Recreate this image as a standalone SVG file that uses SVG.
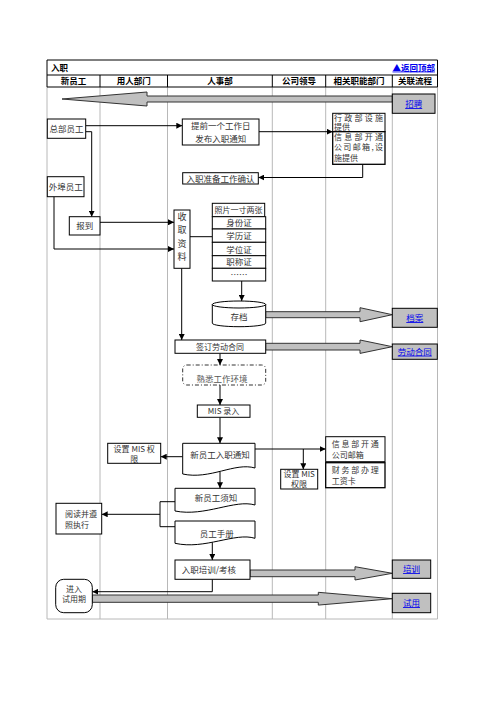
<svg xmlns="http://www.w3.org/2000/svg" width="496" height="702" viewBox="0 0 496 702">
<style>
text{font-family:"Noto Sans CJK SC","Liberation Sans",sans-serif;font-size:8.5px;fill:#333}
.c{text-anchor:middle}
.s{font-size:8px}
.h{font-weight:bold;fill:#000;font-size:8.5px}
.lk{fill:#0000ee;text-decoration:underline;text-anchor:middle}
.bx{fill:#fff;stroke:#000;stroke-width:1}
.lb{fill:#c0c0c0;stroke:#000;stroke-width:1}
.gl{stroke:#b8b8b8;stroke-width:1;fill:none}
.bl{stroke:#000;stroke-width:1;fill:none}
.ln{stroke:#000;stroke-width:1;fill:none}
.ar{marker-end:url(#ah)}
.big{fill:#c0c0c0;stroke:#333;stroke-width:1}
</style>
<defs>
<marker id="ah" markerWidth="6" markerHeight="6" refX="6" refY="3" orient="auto" markerUnits="userSpaceOnUse">
<path d="M0,0 L6,3 L0,6 Z" fill="#000"/>
</marker>
</defs>
<rect width="496" height="702" fill="#fff"/>
<g id="table">
<path class="gl" d="M47,87 V619 H437.5 V87 M100,87 V619 M167.5,87 V619 M272.3,87 V619 M325.7,87 V619 M392.3,87 V619"/>
<path class="bl" d="M47,60 H437.5 V87 H47 Z M47,75 H437.5 M100,75 V87 M167.5,75 V87 M272.3,75 V87 M325.7,75 V87 M392.3,75 V87"/>
<text x="51" y="70.5" class="h">入职</text>
<text x="435" y="70.5" class="h" style="fill:#0000ee;text-decoration:underline;text-anchor:end">▲返回顶部</text>
<text x="73.5" y="84" class="h c">新员工</text>
<text x="133.7" y="84" class="h c">用人部门</text>
<text x="220" y="84" class="h c">人事部</text>
<text x="299" y="84" class="h c">公司领导</text>
<text x="359" y="84" class="h c">相关职能部门</text>
<text x="415" y="84" class="h c">关联流程</text>
</g>
<g id="connectors">
<polygon class="big" points="392.3,96 147,96 147,92 62,99 147,106 147,102 392.3,102"/>
<polygon class="big" points="265.7,311.7 360,311.7 360,307.7 392.3,314.7 360,321.7 360,317.7 265.7,317.7"/>
<polygon class="big" points="265.7,343.3 360,343.3 360,340 392.3,346.7 360,353.4 360,350 265.7,350"/>
<polygon class="big" points="250,570 355,570 355,566.7 392.3,573.3 355,580 355,576.7 250,576.7"/>
<polygon class="big" points="92.3,595 318.3,595 318.3,592.3 392.3,598.7 318.3,605.1 318.3,602.3 92.3,602.3"/>
<path class="ln ar" d="M85.7,125.7 H182.3"/>
<path class="ln ar" d="M85.7,131.7 H91.7 V216.7"/>
<path class="ln ar" d="M54,196.7 V249 H174"/>
<path class="ln ar" d="M100,222.3 H174"/>
<path class="ln ar" d="M259,131.7 H332.7"/>
<path class="ln ar" d="M362.7,164.3 V177.5 H258.3"/>
<path class="ln" d="M190,236.7 H212.3"/>
<path class="ln ar" d="M241.7,281 V301"/>
<path class="ln ar" d="M181.7,268.3 V340"/>
<path class="ln ar" d="M220,353.3 V365"/>
<path class="ln ar" d="M220,385 V405"/>
<path class="ln ar" d="M220,417.3 V443.3"/>
<path class="ln ar" d="M182.7,456.7 H160.7"/>
<path class="ln ar" d="M255,449 H325.7"/>
<path class="ln ar" d="M303.3,449 V469.3"/>
<path class="ln ar" d="M220,472 V488.3"/>
<path class="ln" d="M175,501.7 H160 V526.7 H175"/>
<path class="ln ar" d="M160,514.3 H101.7"/>
<path class="ln ar" d="M212.3,541 V560"/>
<path class="ln ar" d="M212.3,579.3 V591.7 H92.3"/>
</g>
<g id="n-zhaopin"><rect class="lb" x="392.3" y="94" width="42.7" height="19.3"/><text x="413.7" y="107" class="lk">招聘</text></g>
<g id="n-zongbu"><rect class="bx" x="47.3" y="119" width="38.4" height="19.3"/><text x="66.5" y="132" class="c">总部员工</text></g>
<g id="n-tiqian"><rect class="bx" x="182.3" y="119" width="76.7" height="26"/><text x="220.7" y="129.3" class="c">提前一个工作日</text><text x="220.7" y="141.5" class="c">发布入职通知</text></g>
<g id="n-xingzheng"><rect class="bx" x="332.7" y="113.3" width="52.3" height="18.4"/><rect class="bx" x="332.7" y="131.7" width="52.3" height="32.6" style="stroke-width:1.3"/>
<text x="334" y="120.8" class="s" textLength="49" lengthAdjust="spacing">行政部设施</text><text x="334" y="130.3" class="s">提供</text>
<text x="334" y="140" class="s" textLength="49" lengthAdjust="spacing">信息部开通</text><text x="334" y="150.3" class="s" textLength="49" lengthAdjust="spacing">公司邮箱,设</text><text x="334" y="160.6" class="s">施提供</text></g>
<g id="n-zhunbei"><rect class="bx" x="182.7" y="172.7" width="75.6" height="11.3"/><text x="220.5" y="181.5" class="c">入职准备工作确认</text></g>
<g id="n-waibu"><rect class="bx" x="47.3" y="176.7" width="36.7" height="20"/><text x="65.7" y="190" class="c">外埠员工</text></g>
<g id="n-baodao"><rect class="bx" x="69.3" y="216.7" width="30.7" height="18.3"/><text x="84.7" y="229" class="c">报到</text></g>
<g id="n-shouqu"><rect class="bx" x="174" y="210" width="16" height="58.3"/><text x="182" y="220" class="c" style="font-size:9px">收</text><text x="182" y="233.3" class="c" style="font-size:9px">取</text><text x="182" y="246.6" class="c" style="font-size:9px">资</text><text x="182" y="260" class="c" style="font-size:9px">料</text></g>
<g id="n-list">
<rect class="bx" x="212.3" y="203.3" width="52.4" height="13.4"/><text x="238.5" y="213" class="c s">照片一寸两张</text>
<rect class="bx" x="212.3" y="216.7" width="53.4" height="12.3"/><text x="239" y="226" class="c">身份证</text>
<rect class="bx" x="212.3" y="229" width="53.4" height="13.3"/><text x="239" y="239.3" class="c">学历证</text>
<rect class="bx" x="212.3" y="242.3" width="53.4" height="13.4"/><text x="239" y="252.6" class="c">学位证</text>
<rect class="bx" x="212.3" y="255.7" width="53.4" height="12.6"/><text x="239" y="265.3" class="c">职称证</text>
<rect class="bx" x="212.3" y="268.3" width="53.4" height="12.7"/><text x="239" y="277.5" class="c">……</text>
</g>
<g id="n-cundang"><path class="bx" d="M212.3,304.5 A26.7,3.5 0 0 1 265.7,304.5 V323.2 A26.7,3.5 0 0 1 212.3,323.2 Z"/><path class="ln" d="M212.3,304.5 A26.7,3.5 0 0 0 265.7,304.5"/><text x="239" y="319.5" class="c">存档</text></g>
<g id="n-dangan"><rect class="lb" x="392.3" y="308.3" width="45" height="19"/><text x="414.8" y="321" class="lk">档案</text></g>
<g id="n-qianding"><rect class="bx" x="175" y="340" width="90.7" height="13.3"/><text x="220" y="349.8" class="c s">签订劳动合同</text></g>
<g id="n-laodong"><rect class="lb" x="392.3" y="344" width="45" height="15.3"/><text x="414.8" y="354.6" class="lk">劳动合同</text></g>
<g id="n-shuxi"><rect x="182.7" y="365" width="83" height="20" rx="4" fill="#fff" stroke="#333" stroke-dasharray="4,2,1,2"/><text x="222" y="382" class="c" style="fill:#555">熟悉工作环境</text></g>
<g id="n-mis"><rect class="bx" x="197.3" y="405" width="52.7" height="12.3"/><text x="223.5" y="414.3" class="c s">MIS 录入</text></g>
<g id="n-tongzhi"><path class="bx" d="M182.7,443.3 H255 V468 C235,462 210,480 182.7,474 Z"/><text x="220" y="457.5" class="c">新员工入职通知</text></g>
<g id="n-mis1"><rect class="bx" x="107.7" y="443.3" width="53" height="20"/><text x="134.2" y="451.6" class="c s">设置 MIS 权</text><text x="134.3" y="461.6" class="c s">限</text></g>
<g id="n-xinxi"><rect class="bx" x="325.7" y="436.7" width="59.3" height="25"/><text x="331.7" y="447" class="s" textLength="47" lengthAdjust="spacing">信息部开通</text><text x="331.7" y="457.5" class="s">公司邮箱</text></g>
<g id="n-caiwu"><rect class="bx" x="325.7" y="462.7" width="59.3" height="25" style="stroke-width:1.3"/><text x="331.7" y="473" class="s" textLength="47" lengthAdjust="spacing">财务部办理</text><text x="331.7" y="484" class="s">工资卡</text></g>
<g id="n-mis2"><rect class="bx" x="280.7" y="469.3" width="37" height="19.7"/><text x="299.2" y="477.3" class="c s">设置 MIS</text><text x="299" y="487.3" class="c s">权限</text></g>
<g id="n-xuzhi"><path class="bx" d="M175,488.3 H255 V505 C235,499 205,517 175,511 Z"/><text x="216" y="501" class="c">新员工须知</text></g>
<g id="n-shouce"><path class="bx" d="M175,521 H255 V538.3 C235,532 205,550 175,543.3 Z"/><text x="216.7" y="536.5" class="c">员工手册</text></g>
<g id="n-yuedu"><rect class="bx" x="56" y="503.3" width="45.7" height="30.7"/><text x="65" y="517" class="s">阅读并遵</text><text x="65" y="528" class="s">照执行</text></g>
<g id="n-peixun1"><rect class="bx" x="175" y="560" width="75" height="19.3"/><text x="181.7" y="573">入职培训/考核</text></g>
<g id="n-peixun"><rect class="lb" x="392.3" y="560" width="38.4" height="18.3"/><text x="411.5" y="572" class="lk">培训</text></g>
<g id="n-jinru"><rect class="bx" x="55.7" y="579.3" width="36.6" height="33.4" rx="8"/><text x="74" y="591.5" class="c s">进入</text><text x="74" y="602" class="c s">试用期</text></g>
<g id="n-shiyong"><rect class="lb" x="392.3" y="593.3" width="38.4" height="19.4"/><text x="411.5" y="606" class="lk">试用</text></g>
</svg>
